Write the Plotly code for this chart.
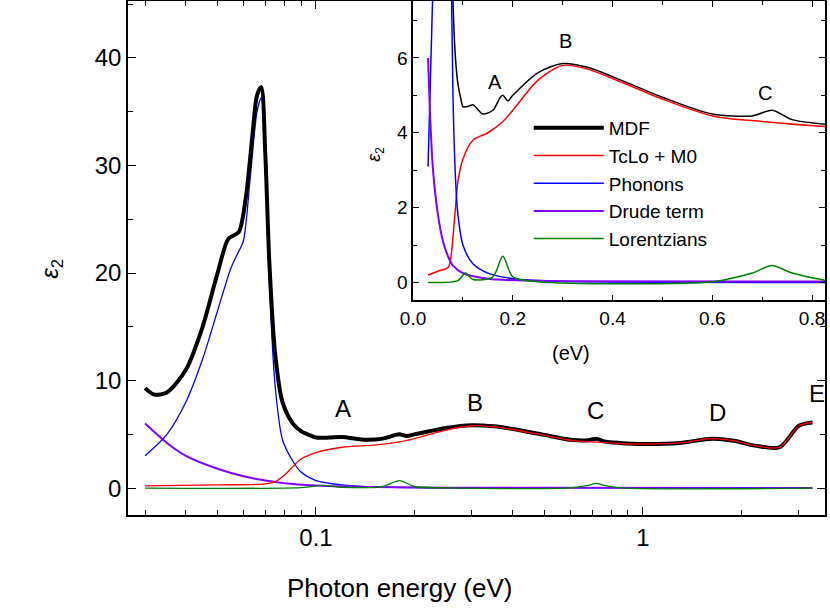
import plotly.graph_objects as go
import math

# ---------- data (eV, eps2) ----------
mdf_x = [0.030,0.032,0.035,0.040,0.045,0.050,0.054,0.058,0.061,0.064,0.066,0.068,0.070,0.072,0.075,0.079,0.085,0.090,0.096,0.10,0.11,0.12,0.14,0.16,0.175,0.18,0.19,0.20,0.25,0.30,0.35,0.40,0.50,0.60,0.68,0.72,0.76,0.85,1.0,1.3,1.63,1.9,2.2,2.62,3.0,3.3]
mdf_y = [9.3,8.7,8.9,11.0,15.0,20.0,23.2,23.8,27.0,33.0,36.5,37.3,31.0,21.0,12.5,8.0,6.0,5.3,4.9,4.7,4.7,4.75,4.5,4.6,4.95,5.0,4.85,5.0,5.6,5.85,5.75,5.5,4.95,4.5,4.45,4.6,4.35,4.2,4.1,4.2,4.6,4.4,3.95,3.8,5.8,6.1]
red_x = [0.030,0.050,0.070,0.075,0.080,0.085,0.090,0.10,0.12,0.15,0.18,0.20,0.25,0.30,0.35,0.40,0.50,0.60,0.70,0.85,1.0,1.3,1.63,1.9,2.2,2.62,3.0,3.3]
red_y = [0.2,0.3,0.4,0.6,1.2,2.0,2.7,3.3,3.8,4.0,4.3,4.6,5.4,5.8,5.7,5.45,4.9,4.45,4.3,4.15,4.1,4.2,4.6,4.4,3.95,3.8,5.8,6.1]
blue_x = [0.030,0.035,0.040,0.045,0.050,0.055,0.058,0.060,0.063,0.066,0.068,0.070,0.072,0.075,0.079,0.085,0.090,0.10,0.12,0.15,0.20,0.30]
blue_y = [3.0,5.0,8.0,12.0,16.5,20.5,22.0,23.0,29.0,35.0,36.3,30.0,19.0,9.5,4.5,2.5,1.5,0.7,0.3,0.12,0.05,0.0]
drude_x = [0.030,0.035,0.040,0.050,0.060,0.070,0.080,0.10,0.15,0.30,3.3]
drude_y = [6.0,4.2,3.0,1.8,1.1,0.7,0.45,0.25,0.1,0.03,0.0]
green_x = [0.030,0.090,0.105,0.120,0.160,0.180,0.200,0.250,0.600,0.680,0.720,0.760,0.850,3.3]
green_y = [0.0,0.05,0.25,0.08,0.15,0.70,0.15,0.02,0.02,0.25,0.45,0.25,0.02,0.0]

in_blue_x = [0.030,0.040,0.050,0.055,0.060,0.066,0.070,0.073,0.077,0.080,0.085,0.090,0.10,0.12,0.15,0.20,0.30,0.85]
in_blue_y = [3.1,8.0,16.5,20.5,23.0,35.0,31.0,18.0,8.0,5.0,2.8,1.8,1.0,0.5,0.25,0.1,0.03,0.0]

labels_main = ["A","B","C","D","E"]
labels_main_x = [0.121,0.306,0.714,1.69,3.4]
labels_main_y = [7.4,8.0,7.2,7.0,8.8]
labels_in = ["A","B","C"]
labels_in_x = [0.165,0.305,0.705]
labels_in_y = [5.35,6.45,5.05]

x_major = [0.1, 1]
x_minor = [0.03,0.04,0.05,0.06,0.07,0.08,0.09,0.2,0.3,0.4,0.5,0.6,0.7,0.8,0.9,2,3]

fig = go.Figure()
def add(x, y, c, w, name, xa="x", ya="y", show=False):
    fig.add_trace(go.Scatter(x=x, y=y, mode="lines", line=dict(color=c, width=w, shape="spline", smoothing=0.8),
                             name=name, xaxis=xa, yaxis=ya, showlegend=show))

add(blue_x, blue_y, "#0000ff", 1.3, "Phonons")
add(drude_x, drude_y, "#8000ff", 2, "Drude term")
add(green_x, green_y, "#008000", 1.3, "Lorentzians")
add(mdf_x, mdf_y, "black", 4, "MDF")
add(red_x, red_y, "#ff0000", 1.3, "TcLo + M0")

add(mdf_x, mdf_y, "black", 1.5, "MDF", "x2", "y2")
add(red_x, red_y, "#ff0000", 1.5, "TcLo + M0", "x2", "y2")
add(in_blue_x, in_blue_y, "#0000ff", 1.5, "Phonons", "x2", "y2")
add(drude_x, drude_y, "#8000ff", 2, "Drude term", "x2", "y2")
add(green_x, green_y, "#008000", 1.5, "Lorentzians", "x2", "y2")
for name, c, w in [("MDF","black",4),("TcLo + M0","#ff0000",1.5),("Phonons","#0000ff",1.5),("Drude term","#8000ff",2),("Lorentzians","#008000",1.5)]:
    fig.add_trace(go.Scatter(x=[None], y=[None], mode="lines", line=dict(color=c, width=w), name=name,
                             xaxis="x2", yaxis="y2", showlegend=True))

ann = []
for t, x, y in zip(labels_main, labels_main_x, labels_main_y):
    ann.append(dict(text=t, x=math.log10(x), y=y, xref="x", yref="y", showarrow=False, font=dict(size=24)))
for t, x, y in zip(labels_in, labels_in_x, labels_in_y):
    ann.append(dict(text=t, x=x, y=y, xref="x2", yref="y2", showarrow=False, font=dict(size=20)))
ann.append(dict(text="<i>ε</i><sub>2</sub>", x=-0.135, y=0.48, xref="paper", yref="paper", showarrow=False, font=dict(size=24), textangle=-90))
ann.append(dict(text="<i>ε</i><sub>2</sub>", x=0.355, y=0.72, xref="paper", yref="paper", showarrow=False, font=dict(size=18), textangle=-90))
ann.append(dict(text="(eV)", x=0.635, y=0.29, xref="paper", yref="paper", showarrow=False, font=dict(size=20)))
ann.append(dict(text="Photon energy (eV)", x=0.39, y=-0.175, xref="paper", yref="paper", showarrow=False, font=dict(size=26)))

axcommon = dict(showline=True, linecolor="black", linewidth=1.5, mirror="ticks", ticks="inside", showgrid=False, zeroline=False,
                tickcolor="black", automargin=False)
fig.update_layout(
    width=830, height=615, plot_bgcolor="white", paper_bgcolor="white",
    margin=dict(l=128, r=5, t=1, b=100),
    font=dict(family="Liberation Sans, Arial", color="black"),
    xaxis=dict(type="log", range=[-1.575, 0.557], tickvals=x_major, ticktext=["0.1", "1"], ticklen=8,
               minor=dict(ticks="inside", ticklen=5, tickcolor="black", tickvals=x_minor, showgrid=False),
               tickfont=dict(size=24), **axcommon),
    yaxis=dict(range=[-2.5, 45.3], tickvals=[0,10,20,30,40], ticklen=8, tickfont=dict(size=24),
               minor=dict(ticks="inside", ticklen=5, dtick=5, tickcolor="black"), **axcommon),
    xaxis2=dict(domain=[0.409, 1.0], anchor="y2", range=[0.0, 0.826], dtick=0.2, tickformat=".1f", ticklen=6,
                tickfont=dict(size=19), minor=dict(ticks="inside", ticklen=4, dtick=0.1, tickcolor="black"), **axcommon),
    yaxis2=dict(domain=[0.4175, 1.0], anchor="x2", range=[-0.48, 7.52], dtick=2, ticklen=6, tickfont=dict(size=19),
                minor=dict(ticks="inside", ticklen=4, dtick=1, tickcolor="black"), **axcommon),
    legend=dict(x=0.575, y=0.79, xanchor="left", yanchor="top", bgcolor="rgba(0,0,0,0)", font=dict(size=19),
                tracegroupgap=0, itemwidth=70),
    annotations=ann,
    shapes=[dict(type="rect", xref="paper", yref="paper", x0=0.409, x1=1.0, y0=0.4175, y1=1.0,
                 fillcolor="white", line=dict(width=0), layer="below")],
)
fig.write_html("out.html", config={"displayModeBar": False})
with open("out.html", encoding="utf-8") as f:
    html = f.read()
html = html.replace("<head>", "<head><style>html,body{margin:0;padding:0;overflow:hidden}</style>", 1)
with open("out.html", "w", encoding="utf-8") as f:
    f.write(html)
